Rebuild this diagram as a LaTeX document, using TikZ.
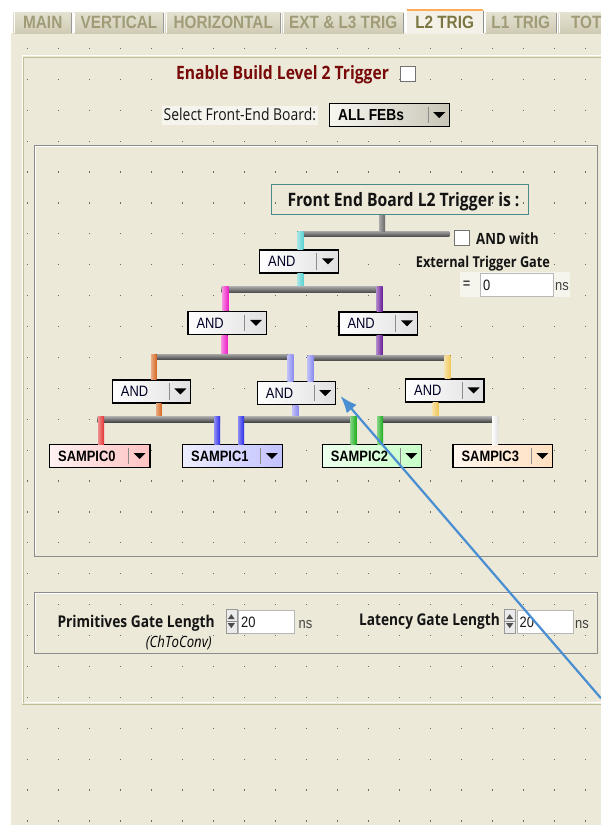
\documentclass[tikz,border=0pt]{standalone}
\usepackage{fontspec}
\setmainfont{Liberation Sans}[FakeStretch=0.86]
\newfontfamily\segui{Open Sans}[FakeStretch=0.85]
\usetikzlibrary{calc,arrows.meta}

\definecolor{page}{HTML}{ECE9D8}
\definecolor{tabtop}{HTML}{E4E1D1}
\definecolor{tabbot}{HTML}{CFCBB4}
\definecolor{tabtext}{HTML}{A09C78}
\definecolor{seltext}{HTML}{7C7642}
\definecolor{olive}{HTML}{C2BC92}
\definecolor{dotc}{HTML}{6A6A6A}
\definecolor{framec}{HTML}{8C8C8C}
\definecolor{darkred}{HTML}{780A0A}
\definecolor{titleedge}{HTML}{4A8A8A}
\definecolor{wgray}{HTML}{666666}
\definecolor{wcyan}{HTML}{5CD2D2}
\definecolor{wmag}{HTML}{EE1CC6}
\definecolor{wpurp}{HTML}{661A98}
\definecolor{worange}{HTML}{D6661C}
\definecolor{wperi}{HTML}{8C8CF0}
\definecolor{wyel}{HTML}{F0C656}
\definecolor{wred}{HTML}{E43232}
\definecolor{wblue}{HTML}{2A2AE8}
\definecolor{wgreen}{HTML}{1AAE1A}
\definecolor{pointer}{HTML}{4A8ED2}

% ring control: [shading] name, x, y (top left), width, label
\newcommand\ringbox[6][]{%
  \node[ring, #1, minimum width=#5] (#2) at (#3,#4) {};
  \node[anchor=west, inner sep=0pt] at ($(#2.west)+(9,0)$) {#6};
  \draw[black!45] ($(#2.north east)+(-22.5,4)$) -- ($(#2.south east)+(-22.5,-4)$);
  \fill ($(#2.east)+(-17,-3)$) -- ++(12,0) -- ++(-6,6) -- cycle;
}
\newcommand\andfont{\fontsize{15}{15}\selectfont\color{black!85!blue}}
\newcommand\samfont{\fontsize{15}{15}\selectfont\bfseries}

\begin{document}
\begin{tikzpicture}[x=1pt, y=-1pt,
  ring/.style={draw=black, line width=1.3pt, anchor=north west, inner sep=0pt,
    minimum height=23, left color=white, right color=black!12},
  lbl/.style={inner sep=0pt, anchor=base west, text=black!92},
  chk/.style={draw=black!55, line width=1pt, fill=white, minimum size=15, inner sep=0pt},
  numbox/.style={draw=black!28, line width=1pt, fill=white, anchor=north west,
    inner sep=0pt, minimum height=23},
  spin/.style={draw=black!40, fill=black!8, anchor=north west, inner sep=0pt,
    minimum width=11, minimum height=24},
  bar/.style={top color=black!35, bottom color=black!72},
  stub/.style={left color=#1!55!white, right color=#1}]

\useasboundingbox (0,0) rectangle (601,825);
\fill[white] (0,0) rectangle (601,825);
\fill[page] (11,33) rectangle (601,825);

%%% tabs
\foreach \xa/\xb/\lab in {13.5/72/MAIN, 74/164/VERTICAL, 165.5/281/HORIZONTAL,
    282.5/404/EXT \& L3 TRIG, 485/556.5/L1 TRIG, 558.5/614/TOT}{
  \fill[top color=tabtop, bottom color=tabbot] (\xa,12.5) rectangle (\xb,33);
  \draw[white] (\xa+0.5,33) -- (\xa+0.5,13);
  \draw[black!40] (\xb-0.5,13) -- (\xb-0.5,33);
  \node[text=tabtext, inner sep=0pt, font=\fontsize{17.8}{17.8}\selectfont\bfseries]
    at ({(\xa+\xb)/2},22.5) {\lab};
}
\fill[page!60!white] (405.5,9.5) rectangle (483.7,34);
\draw[white] (406,34) -- (406,10.5);
\draw[black!45] (483.2,10.5) -- (483.2,33);
\draw[orange!65, line width=1.5pt] (406.5,10) -- (482.7,10);
\node[text=seltext, inner sep=0pt, font=\fontsize{17.8}{17.8}\selectfont\bfseries]
  (l2tab) at (444.6,22) {L2 TRIG};

%%% page frames
\draw[white] (22.2,703) -- (22.2,55.5) -- (612,55.5);
\draw[olive] (23.5,703) -- (23.5,57) -- (612,57);
\draw[white] (24.5,702) -- (612,702);
\draw[olive] (22.2,704) -- (612,704);
\draw[framec] (33.7,145.3) rectangle (597.3,555.7);
\draw[white] (35,554.3) -- (35,146.6) -- (596,146.6);
\draw[framec] (33.7,591.7) rectangle (597.3,652.7);
\draw[white] (35,651.3) -- (35,593) -- (596,593);

%%% grid dots
\foreach \i in {0,...,18}
  \foreach \j in {0,...,25}
    \fill[dotc] ({27.2+31*\i},{47.8+30.9*\j}) rectangle ++(1.2,1.2);

%%% enable + board selection
\node[lbl, text=darkred, font=\segui\bfseries\fontsize{18.4}{18.4}\selectfont]
  (enable) at (176,79) {Enable Build Level 2 Trigger};
\node[chk] (enchk) at (407.5,73.5) {};
\fill[page!45!white] (162,106) rectangle (318,125);
\node[lbl, font=\segui\fontsize{16.4}{16.4}\selectfont]
  (select) at (163.5,120.5) {Select Front-End Board:};
\ringbox[left color=page!40!white, right color=page!85!black, minimum height=23]
  {feb}{329}{103}{120}{\fontsize{16}{16}\selectfont\bfseries ALL FEBs}

%%% trigger tree
\node[draw=titleedge, line width=1.3pt, minimum width=257, minimum height=30,
  inner sep=0pt] (title) at (399.8,199.4) {};
\node[lbl, font=\segui\bfseries\fontsize{18.5}{18.5}\selectfont]
  at (287.3,206) {Front End Board L2 Trigger is :};

\ringbox{and1}{259}{249.3}{78.7}{\andfont AND}
\ringbox{and2l}{187.3}{310.7}{78.4}{\andfont AND}
\ringbox{and2r}{338.3}{311.3}{78.4}{\andfont AND}
\ringbox{and3l}{111.7}{379.3}{78.3}{\andfont AND}
\ringbox{and3m}{256.7}{381}{78.3}{\andfont AND}
\ringbox{and3r}{405}{378.3}{78.3}{\andfont AND}
\ringbox[left color=red!5, right color=red!24, minimum height=22.7]
  {sam0}{49}{444}{100.3}{\samfont SAMPIC0}
\ringbox[left color=blue!7, right color=blue!24, minimum height=22.7]
  {sam1}{182}{444}{99.6}{\samfont SAMPIC1}
\ringbox[left color=green!7, right color=green!22, minimum height=22.7]
  {sam2}{321.6}{444}{99.4}{\samfont SAMPIC2}
\ringbox[left color=orange!6, right color=orange!25, minimum height=22.7]
  {sam3}{452.4}{444}{99.6}{\samfont SAMPIC3}

% level 0
\fill[bar] (297.3,231) rectangle (449.3,236.7);
\fill[stub=wgray] (379,0 |- title.south) rectangle (385,231);
\fill[stub=wcyan] (297.3,231) rectangle (303.3,0 |- and1.north);
% level 1
\fill[stub=wcyan] (297.3,0 |- and1.south) rectangle (303.3,286.7);
\fill[bar] (221.7,286.7) rectangle (382.5,292.7);
\fill[stub=wmag] (222.7,286.7) rectangle (228.5,0 |- and2l.north);
\fill[stub=wpurp] (376.7,286.7) rectangle (382.5,0 |- and2r.north);
% level 2
\fill[stub=wmag] (221.7,0 |- and2l.south) rectangle (227.7,354);
\fill[stub=wpurp] (376.7,0 |- and2r.south) rectangle (382.7,355);
\fill[bar] (151,354) rectangle (293.3,359.5);
\fill[bar] (307.3,355) rectangle (450.7,360.5);
\fill[stub=worange] (151,354) rectangle (156.7,0 |- and3l.north);
\fill[stub=wperi] (287.3,354) rectangle (293.3,0 |- and3m.north);
\fill[stub=wperi] (307.3,355) rectangle (313.3,0 |- and3m.north);
\fill[stub=wyel] (444.7,355) rectangle (450.7,0 |- and3r.north);
% level 3
\fill[stub=worange] (156,0 |- and3l.south) rectangle (161.7,416.7);
\fill[stub=wperi] (292.3,0 |- and3m.south) rectangle (298.3,416.7);
\fill[stub=wyel] (432.7,0 |- and3r.south) rectangle (438.3,416.7);
\fill[bar] (97.5,416.7) rectangle (220.2,422);
\fill[bar] (238,416.7) rectangle (356.5,422);
\fill[bar] (377.3,416.7) rectangle (498,422);
\fill[stub=wred] (98,416.7) rectangle (104,0 |- sam0.north);
\fill[stub=wblue] (214.4,416.7) rectangle (220.2,0 |- sam1.north);
\fill[stub=wblue] (238,416.7) rectangle (244,0 |- sam1.north);
\fill[stub=wgreen] (350.5,416.7) rectangle (356.5,0 |- sam2.north);
\fill[stub=wgreen] (377.3,416.7) rectangle (383,0 |- sam2.north);
\fill[left color=white, right color=black!12] (492,416.7) rectangle (498,0 |- sam3.north);

%%% external gate
\node[chk] (extchk) at (462.2,237.5) {};
\node[lbl, font=\segui\bfseries\fontsize{15.5}{15.5}\selectfont]
  (andwith) at (476,244) {AND with};
\node[lbl, font=\segui\bfseries\fontsize{15}{15}\selectfont]
  (extgate) at (415.7,267) {External Trigger Gate};
\fill[page!45!white] (460,272) rectangle (570,297);
\node[inner sep=0pt, font=\fontsize{15}{15}\selectfont] (eq) at (466.7,285) {=};
\node[numbox, minimum width=72.7] (extns) at (480,272.7) {};
\node[lbl, font=\fontsize{15}{15}\selectfont] at (483,290) {0};
\node[lbl, font=\fontsize{15}{15}\selectfont, text=black!75] at (555,290.5) {ns};

%%% gate lengths
\node[lbl, font=\segui\bfseries\fontsize{16.2}{16.2}\selectfont]
  (prim) at (57.3,627.5) {Primitives Gate Length};
\node[inner sep=0pt, anchor=base east, font=\segui\itshape\fontsize{15.5}{15.5}\selectfont]
  (chconv) at (211.8,647.5) {(ChToConv)};
\node[spin] (sp1) at (225.6,609) {};
\node[numbox, minimum width=55.6] (primbox) at (238,610) {};
\node[lbl, font=\fontsize{15}{15}\selectfont] at (241,627) {20};
\node[lbl, font=\fontsize{15}{15}\selectfont, text=black!75] at (298.4,628) {ns};
\node[lbl, font=\segui\bfseries\fontsize{16.1}{16.1}\selectfont]
  (lat) at (359,625.5) {Latency Gate Length};
\node[spin] (sp2) at (504,609) {};
\node[numbox, minimum width=56.6] (latbox) at (516.7,610) {};
\node[lbl, font=\fontsize{15}{15}\selectfont] at (519.5,627) {20};
\node[lbl, font=\fontsize{15}{15}\selectfont, text=black!75] at (575,628) {ns};
\foreach \s in {sp1,sp2}{
  \draw[black!45] (\s.west) -- (\s.east);
  \fill[black!70] ($(\s.center)+(-3.5,-2)$) -- ++(7,0) -- ++(-3.5,-5) -- cycle;
  \fill[black!70] ($(\s.center)+(-3.5,2)$) -- ++(7,0) -- ++(-3.5,5) -- cycle;
}

%%% pointer
\coordinate (ptrstart) at (601,698.3);
\coordinate (ptrtip) at (340.5,396);
\draw[pointer, line width=2.2pt, -{Latex[length=17pt,width=13pt]}] (ptrstart) -- (ptrtip);
\end{tikzpicture}
\end{document}
